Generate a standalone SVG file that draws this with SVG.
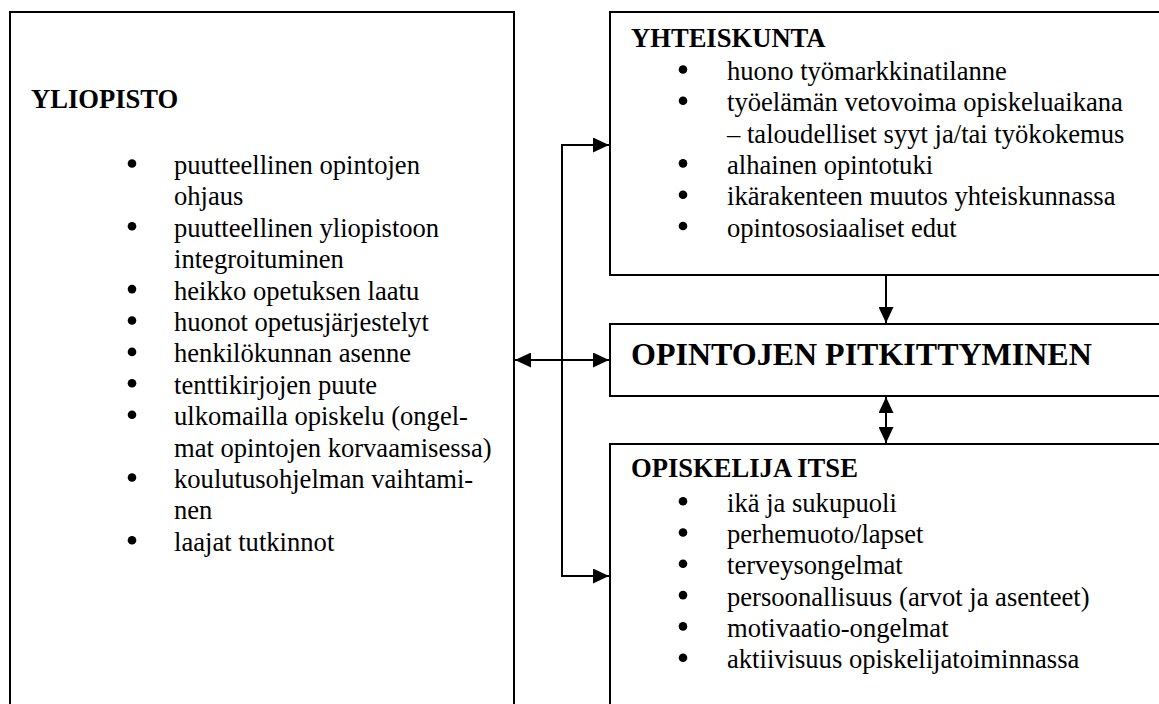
<svg xmlns="http://www.w3.org/2000/svg" width="1159" height="704" viewBox="0 0 1159 704">
<defs>
<style>
.box{fill:#fff;stroke:#000;stroke-width:2}
.t{font-family:"Liberation Serif","Times New Roman",serif;font-size:26.6px;fill:#000}
.h{font-family:"Liberation Serif","Times New Roman",serif;font-size:26.6px;font-weight:bold;fill:#000}
.big{font-family:"Liberation Serif","Times New Roman",serif;font-size:32px;font-weight:bold;fill:#000}
.c{fill:none;stroke:#000;stroke-width:2}
.b{fill:#000}
</style>
<marker id="ah" markerUnits="userSpaceOnUse" markerWidth="16" markerHeight="15" refX="16" refY="7.5" orient="auto-start-reverse">
<path d="M0,0 L16,7.5 L0,15 Z" fill="#000"/>
</marker>
</defs>
<rect width="1159" height="704" fill="#fff"/>

<g id="yliopisto">
<rect class="box" x="10" y="12" width="504" height="720"/>
<text class="h" x="31" y="108">YLIOPISTO</text>
<g class="b">
<circle cx="132" cy="163.5" r="4.3"/>
<circle cx="132" cy="226.3" r="4.3"/>
<circle cx="132" cy="289.1" r="4.3"/>
<circle cx="132" cy="320.5" r="4.3"/>
<circle cx="132" cy="351.9" r="4.3"/>
<circle cx="132" cy="383.3" r="4.3"/>
<circle cx="132" cy="414.7" r="4.3"/>
<circle cx="132" cy="477.5" r="4.3"/>
<circle cx="132" cy="540.3" r="4.3"/>
</g>
<text class="t" x="174" y="174">puutteellinen opintojen</text>
<text class="t" x="174" y="205.4">ohjaus</text>
<text class="t" x="174" y="236.8">puutteellinen yliopistoon</text>
<text class="t" x="174" y="268.2">integroituminen</text>
<text class="t" x="174" y="299.6">heikko opetuksen laatu</text>
<text class="t" x="174" y="331">huonot opetusjärjestelyt</text>
<text class="t" x="174" y="362.4">henkilökunnan asenne</text>
<text class="t" x="174" y="393.8">tenttikirjojen puute</text>
<text class="t" x="174" y="425.2">ulkomailla opiskelu (ongel-</text>
<text class="t" x="174" y="456.6">mat opintojen korvaamisessa)</text>
<text class="t" x="174" y="488">koulutusohjelman vaihtami-</text>
<text class="t" x="174" y="519.4">nen</text>
<text class="t" x="174" y="550.8">laajat tutkinnot</text>
</g>

<g id="yhteiskunta">
<rect class="box" x="610" y="12" width="560" height="263"/>
<text class="h" x="631" y="46.7">YHTEISKUNTA</text>
<g class="b">
<circle cx="683" cy="69.5" r="4.3"/>
<circle cx="683" cy="100.8" r="4.3"/>
<circle cx="683" cy="163.4" r="4.3"/>
<circle cx="683" cy="194.7" r="4.3"/>
<circle cx="683" cy="226" r="4.3"/>
</g>
<text class="t" x="727" y="80">huono työmarkkinatilanne</text>
<text class="t" x="727" y="111.3">työelämän vetovoima opiskeluaikana</text>
<text class="t" x="727" y="142.6">– taloudelliset syyt ja/tai työkokemus</text>
<text class="t" x="727" y="173.9">alhainen opintotuki</text>
<text class="t" x="727" y="205.2">ikärakenteen muutos yhteiskunnassa</text>
<text class="t" x="727" y="236.5">opintososiaaliset edut</text>
</g>

<g id="pitkittyminen">
<rect class="box" x="610" y="324" width="560" height="72"/>
<text class="big" x="631" y="365">OPINTOJEN PITKITTYMINEN</text>
</g>

<g id="opiskelija">
<rect class="box" x="610" y="444" width="560" height="280"/>
<text class="h" x="631" y="476.7">OPISKELIJA ITSE</text>
<g class="b">
<circle cx="683" cy="501.2" r="4.3"/>
<circle cx="683" cy="532.5" r="4.3"/>
<circle cx="683" cy="563.8" r="4.3"/>
<circle cx="683" cy="595.1" r="4.3"/>
<circle cx="683" cy="626.4" r="4.3"/>
<circle cx="683" cy="657.7" r="4.3"/>
</g>
<text class="t" x="727" y="511.7">ikä ja sukupuoli</text>
<text class="t" x="727" y="543">perhemuoto/lapset</text>
<text class="t" x="727" y="574.3">terveysongelmat</text>
<text class="t" x="727" y="605.6">persoonallisuus (arvot ja asenteet)</text>
<text class="t" x="727" y="636.9">motivaatio-ongelmat</text>
<text class="t" x="727" y="668.2">aktiivisuus opiskelijatoiminnassa</text>
</g>

<g id="connectors">
<line class="c" x1="562" y1="145" x2="562" y2="576"/>
<line class="c" x1="561" y1="145" x2="609" y2="145" marker-end="url(#ah)"/>
<line class="c" x1="561" y1="576" x2="609" y2="576" marker-end="url(#ah)"/>
<line class="c" x1="515" y1="360" x2="609" y2="360" marker-start="url(#ah)" marker-end="url(#ah)"/>
<line class="c" x1="886" y1="276" x2="886" y2="323" marker-end="url(#ah)"/>
<line class="c" x1="886" y1="397" x2="886" y2="443" marker-start="url(#ah)" marker-end="url(#ah)"/>
</g>
</svg>
